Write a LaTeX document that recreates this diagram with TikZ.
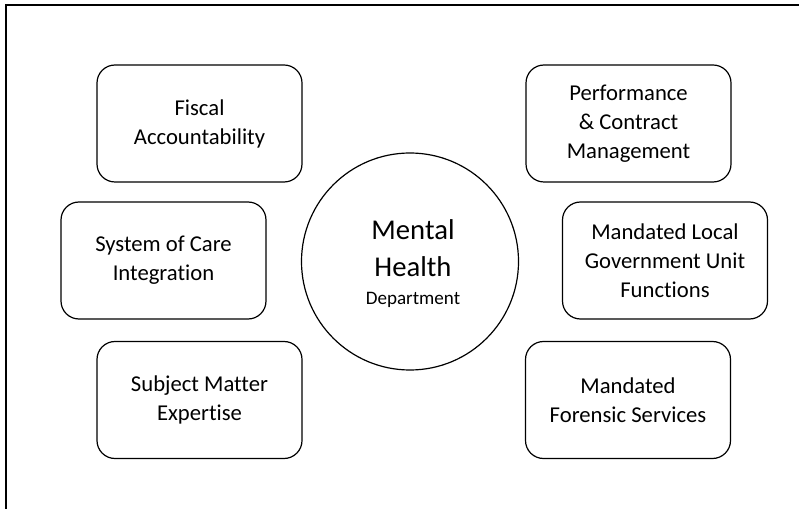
\documentclass[tikz,border=0pt]{standalone}
\usepackage{fontspec}
\setmainfont[Ligatures=NoCommon]{Carlito}
\usepackage{tikz}

\begin{document}
\begin{tikzpicture}[x=0.75pt,y=0.75pt,yscale=-1,xscale=1,
  area/.style={draw, line width=0.9pt, rounded corners=13.5pt, minimum width=153.75pt, minimum height=87.75pt, align=center, inner sep=0pt, font=\fontsize{17}{21.75}\selectfont},
  hub/.style={draw, circle, line width=0.9pt, minimum size=162.75pt, inner sep=0pt},
  bigword/.style={anchor=base, inner sep=0pt, font=\fontsize{21.5}{26}\selectfont},
  smallword/.style={anchor=base, inner sep=0pt, font=\fontsize{14.3}{17}\selectfont}]
\useasboundingbox (0,0) rectangle (799,509);

%Frame (top and left edge only)
\draw [line width=1.2pt] (6,509) -- (6,5) -- (799,5) ;

%Shape: Circle
\node [hub] (mhd) at (410,261.5) {};
% Text Node
\node [bigword] (mental) at (413,240) {Mental};
% Text Node
\node [bigword] (health) at (413,277) {Health};
% Text Node
\node [smallword] (dept) at (413,305) {Department};

%Shape: Rounded Rectangles, left column
\node [area] (fiscal) at (199.5,123.5) {Fiscal\\Accountability};
\node [area] (care) at (163.5,260.5) {System of Care\\Integration};
\node [area] (expert) at (199.5,400) {Subject Matter\\Expertise};

%Shape: Rounded Rectangles, right column
\node [area] (perf) at (628.5,123.5) {Performance\\\& Contract\\Management};
\node [area] (lgu) at (665,260.5) {Mandated Local\\Government Unit\\Functions};
\node [area] (forensic) at (628,400) {Mandated\\Forensic Services};

\end{tikzpicture}
\end{document}
